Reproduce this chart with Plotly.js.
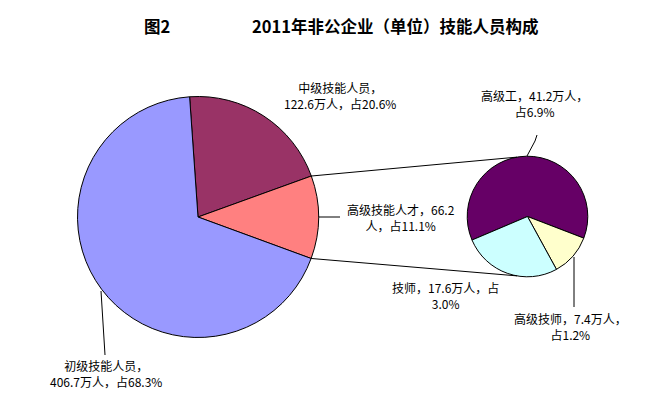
<!DOCTYPE html>
<html>
<head>
<meta charset="utf-8">
<script src="https://cdn.plot.ly/plotly-3.0.1.min.js"></script>
<style>html,body{margin:0;padding:0;background:#fff;}#chart{width:648px;height:393px;}</style>
</head>
<body>
<div id="chart"></div>
<script>
// ---- data ----
var mainLabels = ['中级技能人员', '高级技能人才', '初级技能人员'];
var mainValues = [122.6, 66.2, 406.7];
var mainShares = ['20.6%', '11.1%', '68.3%'];
var mainColors = ['#993366', '#FF8080', '#9999FF'];

var subLabels = ['高级工', '高级技师', '技师'];
var subValues = [41.2, 7.4, 17.6];
var subShares = ['6.9%', '1.2%', '3.0%'];
var subColors = ['#660066', '#FFFFCC', '#CCFFFF'];

// ---- geometry (pixels) ----
var W = 648, H = 393;
var mainC = [198, 217], mainR = 120.5, mainRot = -4;
var subC = [527.5, 216.5], subR = 60.3, subRot = 247;

function domainFor(c, r) {
  return {x: [(c[0] - r) / W, (c[0] + r) / W], y: [(H - c[1] - r) / H, (H - c[1] + r) / H]};
}
function px(x) { return x / W; }
function py(y) { return 1 - y / H; }
function ptOn(c, r, deg) {
  var a = deg * Math.PI / 180;
  return [c[0] + r * Math.sin(a), c[1] - r * Math.cos(a)];
}

var total = mainValues.reduce(function (a, b) { return a + b; }, 0);
var startPink = mainRot + 360 * mainValues[0] / total;
var endPink = startPink + 360 * mainValues[1] / total;
var pA = ptOn(mainC, mainR, startPink);
var pB = ptOn(mainC, mainR, endPink);
var sA = ptOn(subC, subR, -10);
var sB = ptOn(subC, subR, 190);

var line = {color: '#000', width: 1};
var shapes = [
  {type: 'line', xref: 'paper', yref: 'paper', x0: px(pA[0]), y0: py(pA[1]), x1: px(sA[0]), y1: py(sA[1]), line: line},
  {type: 'line', xref: 'paper', yref: 'paper', x0: px(pB[0]), y0: py(pB[1]), x1: px(sB[0]), y1: py(sB[1]), line: line},
  // leader lines
  {type: 'line', xref: 'paper', yref: 'paper', x0: px(318.5), y0: py(217), x1: px(340), y1: py(217), line: line},
  {type: 'line', xref: 'paper', yref: 'paper', x0: px(101), y0: py(291), x1: px(105), y1: py(355), line: line},
  {type: 'path', xref: 'paper', yref: 'paper', path: 'M ' + px(527) + ' ' + py(156) + ' L ' + px(535) + ' ' + py(141) + ' L ' + px(537) + ' ' + py(135), line: line},
  {type: 'line', xref: 'paper', yref: 'paper', x0: px(574), y0: py(257), x1: px(574), y1: py(307), line: line}
];

var fnt = {family: '"Noto Sans CJK SC", "Noto Sans", sans-serif', size: 12, color: '#000'};
function ann(x, y, text) {
  return {xref: 'paper', yref: 'paper', x: px(x), y: py(y), text: text, showarrow: false,
          xanchor: 'center', yanchor: 'middle', align: 'center', font: fnt};
}
var titleFont = {family: '"Noto Sans CJK SC", sans-serif', size: 16.5, color: '#000'};
var annotations = [
  ann(340, 95, mainLabels[0] + '，<br>' + mainValues[0] + '万人，占' + mainShares[0]),
  ann(401, 217, mainLabels[1] + '，66.2<br>人，占' + mainShares[1]),
  ann(106, 373, mainLabels[2] + '，<br>' + mainValues[2] + '万人，占' + mainShares[2]),
  ann(534, 104, subLabels[0] + '，' + subValues[0] + '万人，<br>占' + subShares[0]),
  ann(570, 326, subLabels[1] + '，' + subValues[1] + '万人，<br>占' + subShares[1]),
  ann(445, 295, subLabels[2] + '，' + subValues[2] + '万人，占<br>' + subShares[2]),
  {xref: 'paper', yref: 'paper', x: px(157), y: py(26), text: '<b>图2</b>', showarrow: false,
   xanchor: 'center', yanchor: 'middle', font: titleFont},
  {xref: 'paper', yref: 'paper', x: px(395), y: py(26), text: '<b>2011年非公企业（单位）技能人员构成</b>', showarrow: false,
   xanchor: 'center', yanchor: 'middle', font: titleFont}
];

var traces = [
  {type: 'pie', labels: mainLabels, values: mainValues, sort: false, direction: 'clockwise', rotation: mainRot,
   marker: {colors: mainColors, line: {color: '#000', width: 1}}, textinfo: 'none', hoverinfo: 'label+value',
   domain: domainFor(mainC, mainR)},
  {type: 'pie', labels: subLabels, values: subValues, sort: false, direction: 'clockwise', rotation: subRot,
   marker: {colors: subColors, line: {color: '#000', width: 1}}, textinfo: 'none', hoverinfo: 'label+value',
   domain: domainFor(subC, subR)}
];

Plotly.newPlot('chart', traces, {
  width: W, height: H, margin: {l: 0, r: 0, t: 0, b: 0},
  paper_bgcolor: '#fff', showlegend: false, shapes: shapes, annotations: annotations
}, {displayModeBar: false, staticPlot: true});
</script>
</body>
</html>
